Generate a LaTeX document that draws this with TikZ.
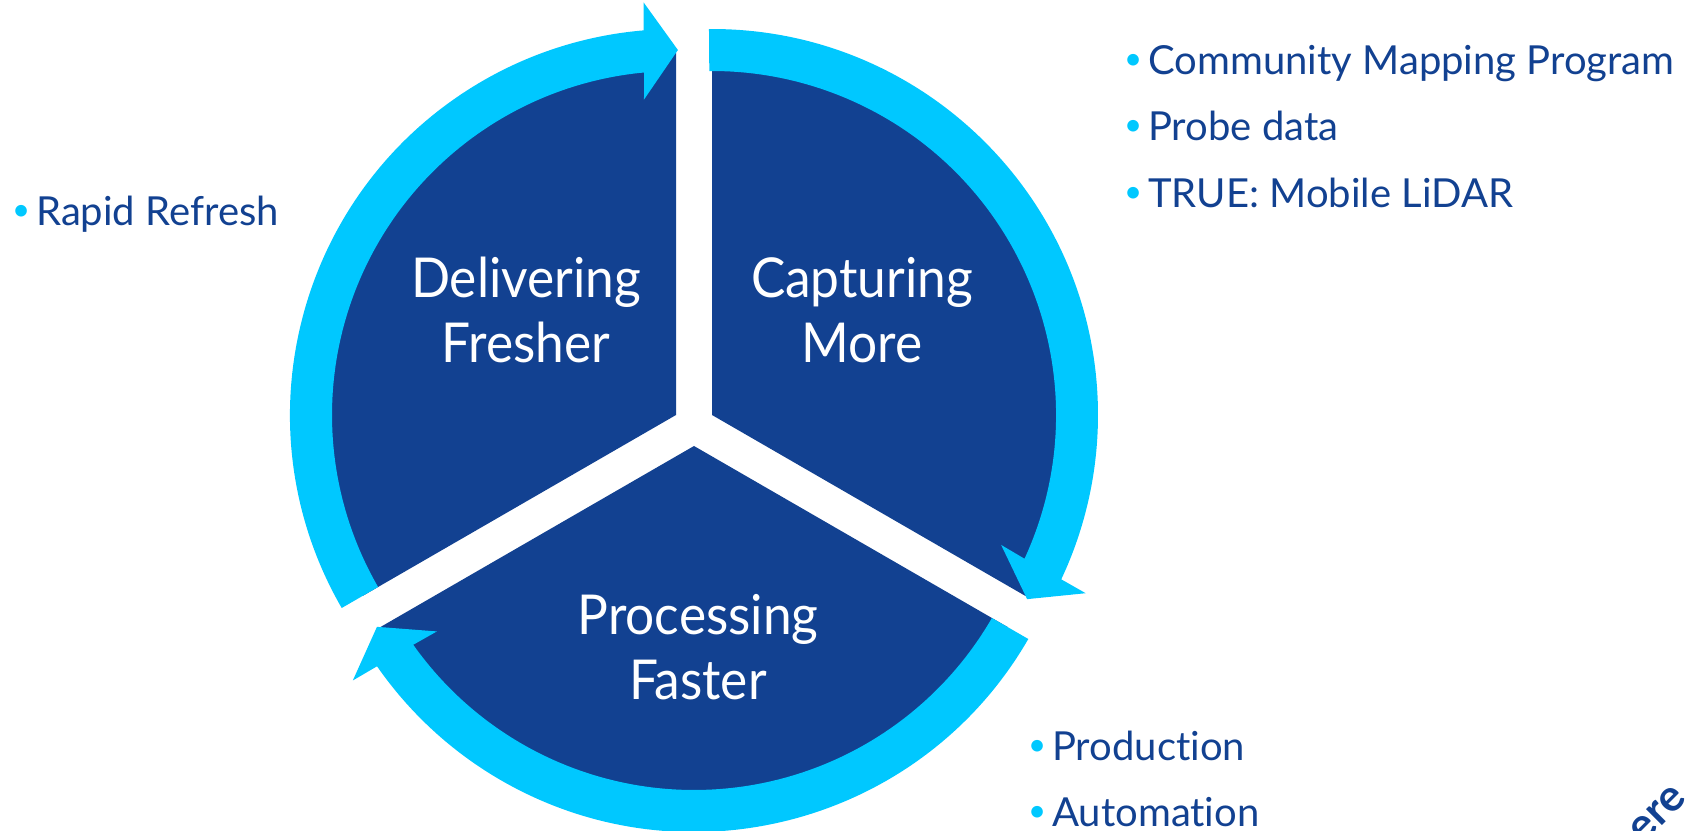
\documentclass[tikz,border=0pt]{standalone}
\usepackage{fontspec}
\setmainfont[Ligatures=NoCommon]{Lato}
\newfontfamily\titlefont[FakeStretch=0.935]{Lato}
\usetikzlibrary{calc}
\definecolor{ringblue}{HTML}{00C8FF}
\definecolor{navyblue}{HTML}{124191}
\newcommand{\itemdot}{\makebox[24pt][l]{\raisebox{5pt}{\textcolor{ringblue}{\scalebox{.78}{\textbullet}}}}}
\begin{document}
\begin{tikzpicture}[x=1pt,y=1pt,
    sector/.style={fill=navyblue},
    band/.style={fill=ringblue},
    title/.style={text=white,align=center,font=\titlefont\fontsize{55}{65}\selectfont},
    bullet/.style={text=navyblue,anchor=base west,inner sep=0pt,font=\fontsize{40}{46}\selectfont}]
    \useasboundingbox (0,0) rectangle (1697,830);
    \clip (0,0) rectangle (1697,830);

    \coordinate (apexright) at (712,415);
    \coordinate (apexleft) at (676,415);
    \coordinate (apexbottom) at (694,384);

    \foreach \apex/\from/\start in {apexright/90/90.45,apexbottom/-30/-30,apexleft/210/210} {
        \fill[sector] (\apex) -- ([shift={(\from:362)}]\apex) arc[start angle=\from,end angle=\from-120,radius=362] -- cycle;
        \fill[band] ([shift={(\start:386)}]\apex) arc[start angle=\start,end angle=\from-115.2,radius=386]
            -- ([shift={(\from-115.5:414)}]\apex)
            -- ([shift={(\from-120.3:365)}]\apex)
            -- ([shift={(\from-114.2:317)}]\apex)
            -- ([shift={(\from-114.7:344)}]\apex) arc[start angle=\from-114.7,end angle=\start,radius=344] -- cycle;
    }

    \node[title] (capture) at (862,520) {Capturing\\More};
    \node[title] (deliver) at (526,520) {Delivering\\Fresher};
    \node[title] (process) at (698,183) {Processing\\Faster};

    \node[bullet] (community) at (1124,755) {\itemdot Community Mapping Program};
    \node[bullet] (probe) at (1124,689) {\itemdot Probe data};
    \node[bullet] (lidar) at (1124,622) {\itemdot TRUE: Mobile LiDAR};
    \node[bullet] (refresh) at (12,604) {\itemdot Rapid Refresh};
    \node[bullet] (production) at (1028,70) {\itemdot Production};
    \node[bullet] (automation) at (1028,4) {\itemdot Automation};

    \node[text=navyblue,font=\fontsize{44}{44}\selectfont\bfseries,rotate=45,anchor=base east,inner sep=0pt] (logo) at (1688,30) {here};
\end{tikzpicture}
\end{document}
